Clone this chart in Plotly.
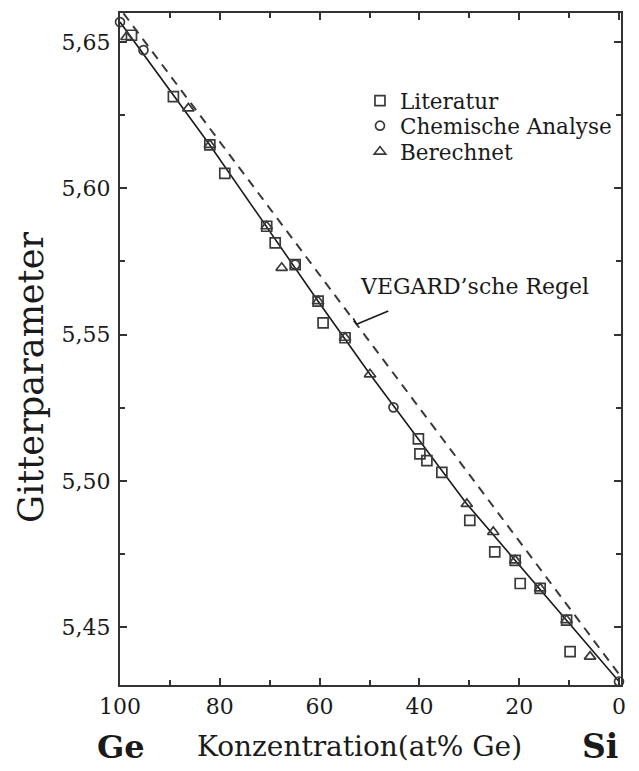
import plotly.graph_objects as go

# ---- data ----
lit_x = [97.7, 89.3, 82.0, 79.0, 70.6, 68.9, 64.9, 60.3, 59.3, 54.9, 40.2, 39.9, 38.5, 35.5, 29.9, 24.9, 20.8, 19.8, 15.8, 10.5, 9.8]
lit_y = [5.6523, 5.6313, 5.6148, 5.6051, 5.5870, 5.5813, 5.5739, 5.5614, 5.5540, 5.5489, 5.5143, 5.5092, 5.5069, 5.5029, 5.4865, 5.4757, 5.4728, 5.4649, 5.4632, 5.4524, 5.4416]

chem_x = [100, 95.3, 64.9, 45.2, 0]
chem_y = [5.6568, 5.6472, 5.5739, 5.5251, 5.4314]

ber_x = [98.7, 86.3, 82.0, 70.6, 67.6, 60.3, 54.9, 49.9, 30.5, 25.2, 20.8, 15.8, 10.5, 5.8]
ber_y = [5.6517, 5.6273, 5.6148, 5.5870, 5.5728, 5.5614, 5.5489, 5.5364, 5.4921, 5.4825, 5.4728, 5.4632, 5.4524, 5.4399]

fit_x = [100, 82.0, 60.3, 49.9, 30.5, 10.5, 0]
fit_y = [5.6568, 5.6148, 5.5614, 5.5364, 5.4921, 5.4524, 5.4314]

vegard_x = [99.3, 0]
vegard_y = [5.6598, 5.4339]

x_ticks = [0, 20, 40, 60, 80, 100]
y_ticks = [5.45, 5.50, 5.55, 5.60, 5.65]

FONT = "DejaVu Serif"
INK = "#1a1a1a"
MK = "#3a3a3a"

fig = go.Figure()

fig.add_trace(go.Scatter(x=fit_x, y=fit_y, mode="lines",
                         line=dict(color=INK, width=1.6), showlegend=False, hoverinfo="skip"))
fig.add_trace(go.Scatter(x=vegard_x, y=vegard_y, mode="lines",
                         line=dict(color=MK, width=2, dash="9px,7px"), showlegend=False, hoverinfo="skip"))

fig.add_trace(go.Scatter(x=lit_x, y=lit_y, mode="markers", name="Literatur", legend="legend",
                         cliponaxis=False,
                         marker=dict(symbol="square-open", size=10, color=MK, line=dict(width=1.7, color=MK))))
fig.add_trace(go.Scatter(x=chem_x, y=chem_y, mode="markers", name="Chemische Analyse", legend="legend2",
                         cliponaxis=False,
                         marker=dict(symbol="circle-open", size=9, color=MK, line=dict(width=1.7, color=MK))))
fig.add_trace(go.Scatter(x=ber_x, y=ber_y, mode="markers", name="Berechnet", legend="legend3",
                         cliponaxis=False,
                         marker=dict(symbol="triangle-up-open", size=10, color=MK, line=dict(width=1.7, color=MK))))

axis_common = dict(
    showline=True, linecolor="#333333", linewidth=2, mirror="ticks",
    ticks="inside", ticklen=7, tickwidth=2, tickcolor="#333333",
    showgrid=False, zeroline=False,
    tickfont=dict(family=FONT, size=22, color=INK),
)

fig.update_xaxes(range=[100, -0.4], tickmode="array", tickvals=x_ticks,
                 minor=dict(dtick=10, tick0=0, ticks="inside", ticklen=5, tickwidth=2, tickcolor="#333333"),
                 ticklabelstandoff=1, **axis_common)
fig.update_yaxes(range=[5.4302, 5.6599], tickmode="array", tickvals=y_ticks,
                 tickformat=".2f",
                 minor=dict(dtick=0.025, tick0=5.45, ticks="inside", ticklen=5, tickwidth=2, tickcolor="#333333"),
                 ticklabelstandoff=3,
                 **axis_common)

# axis titles
fig.add_annotation(xref="paper", yref="paper", x=-0.1776, y=0.457, text="Gitterparameter",
                   textangle=-90, xanchor="center", yanchor="middle", showarrow=False,
                   font=dict(family=FONT, size=35, color=INK))
fig.add_annotation(xref="paper", yref="paper", x=0.002, y=-0.092, text="<b>Ge</b>",
                   xanchor="center", yanchor="middle",
                   showarrow=False, font=dict(family=FONT, size=32, color=INK))
fig.add_annotation(xref="paper", yref="paper", x=0.479, y=-0.092, text="Konzentration(at% Ge)",
                   xanchor="center", yanchor="middle",
                   showarrow=False, font=dict(family=FONT, size=28, color=INK))
fig.add_annotation(xref="paper", yref="paper", x=0.958, y=-0.092, text="<b>Si</b>",
                   xanchor="center", yanchor="middle",
                   showarrow=False, font=dict(family=FONT, size=33, color=INK))

fig.add_annotation(xref="paper", yref="paper", x=0.475, y=0.5935, xanchor="left", yanchor="middle",
                   text="VEGARD’sche Regel", showarrow=False,
                   font=dict(family=FONT, size=22, color=INK))
fig.add_shape(type="path", xref="x", yref="y",
              path="M 46.23 5.558 L 52.57 5.5535 L 53.25 5.5555",
              line=dict(color=INK, width=1.6))

leg = dict(x=0.479, xanchor="left", yanchor="middle",
           font=dict(family=FONT, size=21.5, color=INK),
           bgcolor="rgba(0,0,0,0)", itemwidth=30)

# browser body margin (8px) is compensated by a slightly smaller figure
fig.update_layout(
    width=631, height=763,
    margin=dict(l=112, r=18, t=3, b=86),
    paper_bgcolor="white", plot_bgcolor="white",
    separators=", ",
    showlegend=True,
    legend=dict(y=0.8695, **leg),
    legend2=dict(y=0.8323, **leg),
    legend3=dict(y=0.7938, **leg),
)

fig.write_html("out.html")
